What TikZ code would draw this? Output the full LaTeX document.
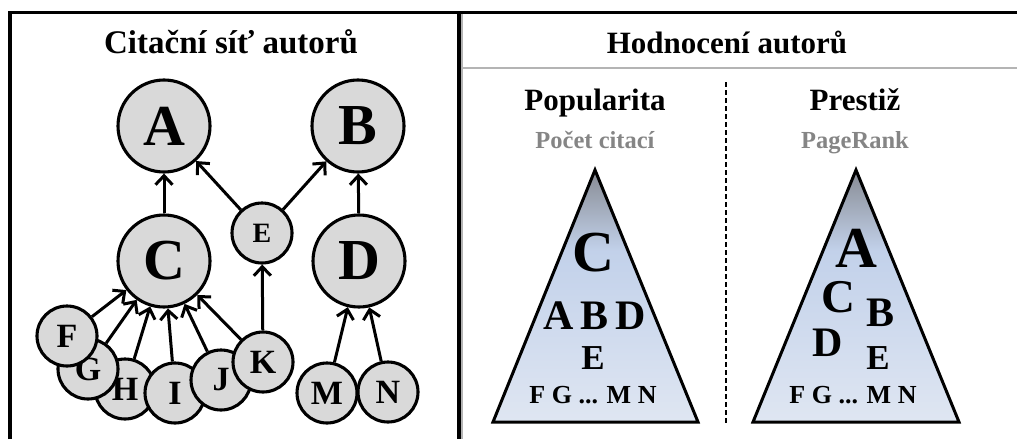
\documentclass[tikz,border=0pt]{standalone}
\usepackage{fontspec}
\setmainfont{Liberation Serif}
\usetikzlibrary{arrows.meta}
\definecolor{nodegray}{HTML}{D9D9D9}
\definecolor{subgray}{HTML}{858585}
\definecolor{panelline}{HTML}{B4B4B4}
\definecolor{pyrtop}{HTML}{878B93}
\definecolor{pyrmid}{HTML}{C2D1EA}
\definecolor{pyrbot}{HTML}{DFE6F2}
% vertical gradient of the ranking pyramids (grey tip, pale blue base);
% the path fills the 25bp--75bp band, and the y axis points down, so 25bp is the base
\pgfdeclareverticalshading{pyrshade}{100bp}{%
  color(0bp)=(pyrbot); color(25bp)=(pyrbot); color(59bp)=(pyrmid);
  color(75bp)=(pyrtop); color(100bp)=(pyrtop)}
\tikzset{
  author/.style={circle, draw=black, line width=3.1pt, fill=nodegray, inner sep=0pt,
                 text=black},
  big/.style={author, minimum size=92pt, font=\fontsize{58}{58}\selectfont\bfseries},
  small/.style={author, minimum size=60pt, font=\fontsize{34}{34}\selectfont\bfseries},
  cite/.style={line width=3pt, -{Straight Barb[length=9pt,width=17pt,line width=3pt]}},
  heading/.style={anchor=base, inner sep=0pt, font=\fontsize{31}{31}\selectfont\bfseries},
  subheading/.style={anchor=base, inner sep=0pt, text=subgray,
                     font=\fontsize{24.5}{24.5}\selectfont\bfseries},
  rank/.style={inner sep=0pt},
  pyramid/.style={draw=black, line width=3pt, line join=miter},
}
\begin{document}
\begin{tikzpicture}[x=1pt, y=-1pt]
\useasboundingbox (0,0) rectangle (1017,439);

% frame of the two panels
\draw[panelline, line width=1.5pt] (462,14) -- (462,439);
\draw[panelline, line width=1.5pt] (462,68) -- (1017,68);
\draw[line width=3.2pt] (10,439) -- (10,12.5) -- (1017,12.5);
\draw[line width=3.2pt] (459,12.5) -- (459,439);

% ---------- left panel: citation network ----------
\node[heading, font=\fontsize{33}{33}\selectfont\bfseries] (netTitle) at (231,53) {Citační síť autorů};

\node[big] (A) at (164,126) {A};
\node[big] (B) at (358,126) {B};
\node[big] (C) at (164,261) {C};
\node[big] (D) at (359,261) {D};
\node[small, font=\fontsize{28}{28}\selectfont\bfseries] (E) at (262,233) {E};

\node[small] (H) at (125,389) {H};
\node[small] (I) at (175,393) {I};
\node[small] (J) at (221,380) {J};
\node[small] (K) at (263,362) {K};
\node[small] (G) at (88,369) {G};
\node[small] (F) at (67,336) {F};
\node[small] (M) at (327,393) {M};
\node[small] (N) at (388,392) {N};

\draw[cite] (C) -- (A);
\draw[cite] (E) -- (A);
\draw[cite] (E) -- (B);
\draw[cite] (D) -- (B);
\draw[cite] (K) -- (E);
\draw[cite] (F) -- (C);
\draw[cite] (G) -- (C);
\draw[cite] (H) -- (C);
\draw[cite] (I) -- (C);
\draw[cite] (J) -- (C);
\draw[cite] (K) -- (C);
\draw[cite] (M) -- (D);
\draw[cite] (N) -- (D);

% ---------- right panel: author ranking ----------
\node[heading] (rankTitle) at (727,53) {Hodnocení autorů};
\coordinate (sepTop) at (726,82);
\coordinate (sepBot) at (726,423);
\draw[line width=1.5pt, dash pattern=on 5pt off 3pt] (sepTop) -- (sepBot);

\node[heading] (popTitle) at (595,110) {Popularita};
\node[subheading] (popSub) at (595,148) {Počet citací};
\node[heading] (preTitle) at (855,110) {Prestiž};
\node[subheading] (preSub) at (855,148) {PageRank};

% popularity pyramid
\path[shading=pyrshade] (595,170) -- (698,422) -- (493,422) -- cycle;
\draw[pyramid] (595,170) -- (698,422) -- (493,422) -- cycle;
\node[rank, font=\fontsize{58}{58}\selectfont\bfseries] (pC) at (593,253) {C};
\node[rank, font=\fontsize{42}{42}\selectfont\bfseries] (pA) at (559,316) {A};
\node[rank, font=\fontsize{42}{42}\selectfont\bfseries] (pB) at (594,316) {B};
\node[rank, font=\fontsize{42}{42}\selectfont\bfseries] (pD) at (631,316) {D};
\node[rank, font=\fontsize{35}{35}\selectfont\bfseries] (pE) at (593,358) {E};
\node[rank, font=\fontsize{26}{26}\selectfont\bfseries] (pRest) at (593,395) {F G ... M N};

% prestige pyramid
\path[shading=pyrshade] (856,170) -- (959,422) -- (753,422) -- cycle;
\draw[pyramid] (856,170) -- (959,422) -- (753,422) -- cycle;
\node[rank, font=\fontsize{58}{58}\selectfont\bfseries] (sA) at (856,248) {A};
\node[rank, font=\fontsize{47}{47}\selectfont\bfseries] (sC) at (838,297) {C};
\node[rank, font=\fontsize{42}{42}\selectfont\bfseries] (sB) at (880,313) {B};
\node[rank, font=\fontsize{42}{42}\selectfont\bfseries] (sD) at (828,343) {D};
\node[rank, font=\fontsize{35}{35}\selectfont\bfseries] (sE) at (878,358) {E};
\node[rank, font=\fontsize{26}{26}\selectfont\bfseries] (sRest) at (853,395) {F G ... M N};
\end{tikzpicture}
\end{document}
